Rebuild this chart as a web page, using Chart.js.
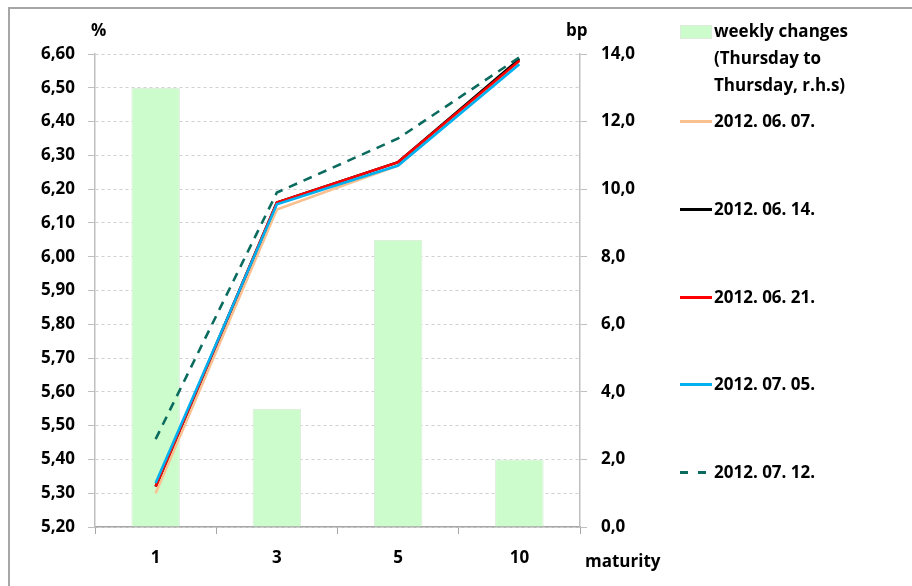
<!DOCTYPE html>
<html>
<head>
<meta charset="utf-8">
<script src="https://cdn.jsdelivr.net/npm/chart.js@4"></script>
<style>
    body { margin: 0; background: #fff; font-family: 'Open Sans', sans-serif; }
    #wrap { position: relative; width: 912px; height: 586px; overflow: hidden; }
    #frame { position: absolute; left: 8px; top: 7px; width: 920px; height: 600px;
             border-top: 2px solid #a6a6a6; border-left: 2px solid #a6a6a6; }
    canvas { position: absolute; left: 0; top: 0; }
    .leg { position: absolute; left: 680px; font-weight: bold; font-size: 17px; color: #000; line-height: 27px; }
    .leg .sw { position: absolute; left: 0; width: 32px; }
    .leg .tx { position: absolute; left: 34px; white-space: nowrap; }
</style>
</head>
<body>
<div id="wrap">
    <div id="frame"></div>
    <canvas id="chart" width="912" height="586"></canvas>
    <div id="legend"></div>
</div>
<script>
document.addEventListener('DOMContentLoaded', function () {
    const maturities = ['1', '3', '5', '10'];

    // weekly change, bp (right axis)
    const weeklyLabel = 'weekly changes (Thursday to Thursday, r.h.s)';
    const weeklyChanges = [13.0, 3.5, 8.5, 2.0];

    // yields, % (left axis)
    const seriesLabels = ['2012. 06. 07.', '2012. 06. 14.', '2012. 06. 21.', '2012. 07. 05.', '2012. 07. 12.'];
    const yield0607 = [5.30, 6.14, 6.27, 6.58];
    const yield0614 = [5.32, 6.16, 6.28, 6.585];
    const yield0621 = [5.32, 6.16, 6.28, 6.58];
    const yield0705 = [5.33, 6.155, 6.27, 6.57];
    const yield0712 = [5.46, 6.19, 6.35, 6.59];

    const leftMin = 5.2, leftMax = 6.6, leftStep = 0.1;
    const rightMin = 0, rightMax = 14, rightStep = 2;

    const colors = ['#fac090', '#000000', '#ff0000', '#00b0f0', '#0b6b5e'];
    const seriesData = [yield0607, yield0614, yield0621, yield0705, yield0712];

    const font = { family: 'Open Sans', size: 17, weight: 'bold' };

    const datasets = [{
        type: 'bar',
        label: weeklyLabel,
        data: weeklyChanges,
        yAxisID: 'y1',
        backgroundColor: '#ccfccc',
        borderColor: '#dcebdc',
        borderWidth: 1,
        barPercentage: 0.4,
        categoryPercentage: 1,
        order: 10
    }];
    seriesData.forEach(function (d, i) {
        datasets.push({
            type: 'line',
            label: seriesLabels[i],
            data: d,
            yAxisID: 'y',
            borderColor: colors[i],
            borderWidth: 2.6,
            borderDash: i === 4 ? [9, 7] : [],
            pointRadius: 0,
            tension: 0,
            order: 5 - i
        });
    });

    const extraText = {
        id: 'extraText',
        afterDraw(chart) {
            const c = chart.ctx;
            const a = chart.chartArea;
            c.save();
            c.fillStyle = '#000';
            c.font = 'bold 17px "Open Sans"';
            c.textBaseline = 'middle';
            c.textAlign = 'left';
            c.fillText('%', a.left - 4, a.top - 23);
            c.fillText('bp', a.right - 14, a.top - 23);
            c.fillText('maturity', a.right + 5, a.bottom + 35);
            c.restore();
        }
    };

    const ctx = document.getElementById('chart').getContext('2d');
    new Chart(ctx, {
        data: { labels: maturities, datasets: datasets },
        options: {
            responsive: false,
            animation: false,
            layout: { padding: { top: 54, left: 0, right: 0, bottom: 0 } },
            plugins: { legend: { display: false }, tooltip: { enabled: false } },
            scales: {
                x: {
                    offset: true,
                    grid: { offset: true, drawOnChartArea: false, tickLength: 7, color: '#a6a6a6' },
                    border: { color: '#a6a6a6', width: 1.5 },
                    ticks: { font: font, color: '#000', padding: 14, maxRotation: 0 },
                    afterFit(s) { s.height = 59; }
                },
                y: {
                    position: 'left',
                    min: leftMin, max: leftMax,
                    grid: { color: '#d0d0d0', tickLength: 7, tickColor: '#bfbfbf' },
                    border: { dash: [3, 3], color: '#bfbfbf', width: 1.5 },
                    ticks: {
                        stepSize: leftStep, font: font, color: '#000', padding: 13,
                        callback: function (v) { return v.toFixed(2).replace('.', ','); }
                    },
                    afterFit(s) { s.width = 95; }
                },
                y1: {
                    position: 'right',
                    min: rightMin, max: rightMax,
                    grid: { drawOnChartArea: false, tickLength: 7, color: '#bfbfbf' },
                    border: { color: '#bfbfbf', width: 1.5 },
                    ticks: {
                        stepSize: rightStep, font: font, color: '#000', padding: 14,
                        callback: function (v) { return v.toFixed(1).replace('.', ','); }
                    },
                    afterFit(s) { s.width = 332; }
                }
            }
        },
        plugins: [extraText]
    });

    // legend
    const legend = document.getElementById('legend');
    const legTops = [17, 107, 195, 283, 370, 458];
    let html = '<div class="leg" style="top:' + legTops[0] + 'px">' +
        '<div class="sw" style="top:8px;height:12px;background:#ccfccc;border:1px solid #dcebdc;width:30px"></div>' +
        '<div class="tx">weekly changes<br>(Thursday to<br>Thursday, r.h.s)</div></div>';
    seriesLabels.forEach(function (lab, i) {
        const line = i === 4
            ? '<div class="sw" style="top:13px;height:2.6px;width:8px;background:' + colors[i] + '"></div>' +
              '<div class="sw" style="top:13px;height:2.6px;width:8px;left:18px;background:' + colors[i] + '"></div>'
            : '<div class="sw" style="top:13px;height:2.6px;background:' + colors[i] + '"></div>';
        html += '<div class="leg" style="top:' + legTops[i + 1] + 'px">' + line +
            '<div class="tx">' + lab + '</div></div>';
    });
    legend.innerHTML = html;
});
</script>
</body>
</html>
